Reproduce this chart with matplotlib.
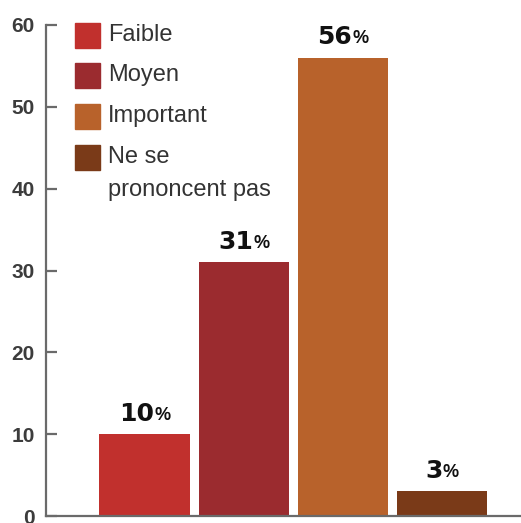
import matplotlib.pyplot as plt
from matplotlib.patches import Rectangle

categories = ['Faible', 'Moyen', 'Important', 'Ne se\nprononcent pas']
values = [10, 31, 56, 3]
colors = ['#c1302d', '#9b2b2f', '#b8622b', '#7a3a18']
yticks = [0, 10, 20, 30, 40, 50, 60]

plt.rcParams['font.family'] = ['Liberation Sans', 'DejaVu Sans']

fig = plt.figure(figsize=(5.21, 5.23), dpi=100)
ax = fig.add_axes([46/521, 7/523, 475/521, 491/523])

x = list(range(len(values)))
ax.bar(x, values, width=0.91, color=colors)

ax.set_xlim(-0.995, 3.8)
ax.set_ylim(0, 60)
ax.set_yticks(yticks)
ax.set_xticks([])
for s in ['top', 'right']:
    ax.spines[s].set_visible(False)
for s in ['left', 'bottom']:
    ax.spines[s].set_color('#6a6a6a')
    ax.spines[s].set_linewidth(1.6)
ax.tick_params(axis='y', direction='in', length=8, width=1.6, color='#6a6a6a',
               pad=8, labelsize=15, labelcolor='#3c3c3c')
for lab in ax.get_yticklabels():
    lab.set_fontweight('bold')

# valeurs au-dessus des barres : chiffre en gras, signe % plus petit
fig.canvas.draw()
r = fig.canvas.get_renderer()
for xi, v in zip(x, values):
    num = ax.annotate(str(v), (xi, v), xytext=(0, 6), textcoords='offset points',
                      ha='right', va='bottom', fontsize=18, fontweight='bold',
                      family='DejaVu Sans', color='#111111')
    pct = ax.annotate('%', (xi, v), xytext=(0, 6), textcoords='offset points',
                      ha='left', va='bottom', fontsize=13, fontweight='bold',
                      color='#111111')
    wn = num.get_window_extent(r).width
    wp = pct.get_window_extent(r).width
    shift = (wn - wp) / 2 * 72 / fig.dpi
    num.xyann = (shift, 6)
    pct.xyann = (shift, 7.5)

# legende dessinee a la main
rows = [0.980, 0.898, 0.815, 0.731]
for y, c, lab in zip(rows, colors, categories):
    ax.add_patch(Rectangle((0.061, y - 0.026), 0.0526, 0.051, color=c,
                           transform=ax.transAxes, clip_on=False))
    ax.text(0.13, y, lab.split('\n')[0], transform=ax.transAxes, va='center',
            ha='left', fontsize=17, color='#333333')
ax.text(0.13, 0.664, categories[3].split('\n')[1], transform=ax.transAxes,
        va='center', ha='left', fontsize=17, color='#333333')

fig.savefig('out.png', dpi=100)
